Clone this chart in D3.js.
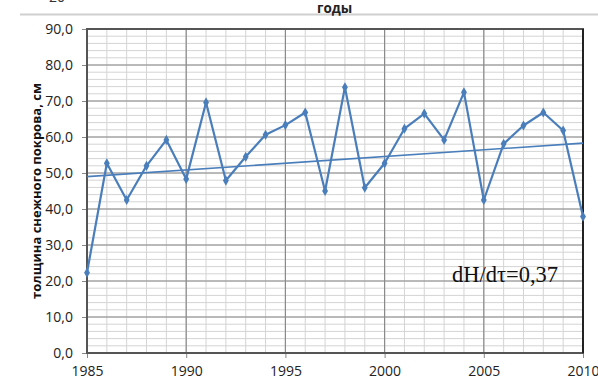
<!DOCTYPE html>
<html><head><meta charset="utf-8">
<script src="https://cdn.jsdelivr.net/npm/d3@7"></script>
<style>body{margin:0;background:#fff}svg{display:block}</style>
</head><body>
<svg id="c" width="598" height="388"></svg>
<script>
const years = [1985,1986,1987,1988,1989,1990,1991,1992,1993,1994,1995,1996,1997,1998,1999,2000,2001,2002,2003,2004,2005,2006,2007,2008,2009,2010];
const snowDepth = [22.3,52.7,42.5,52.0,59.2,48.3,69.6,47.9,54.5,60.6,63.3,66.8,45.0,73.8,45.9,52.7,62.3,66.5,59.2,72.4,42.5,58.1,63.2,66.8,61.8,37.9];
const trendYears = [1985,2010];
const trendValues = [49.0,58.3];
const yTicks = [0,10,20,30,40,50,60,70,80,90];
const xTicks = [1985,1990,1995,2000,2005,2010];
const yLabel = "толщина снежного покрова, см";
const topLabel = "годы";
const annotation = "dH/dτ=0,37";

const svg = d3.select("#c");
const x = d3.scaleLinear().domain([1985,2010]).range([87,583]);
const y = d3.scaleLinear().domain([0,90]).range([353,29]);
const blue = "#4a7ebb";

// remnants of preceding figure at top
svg.append("text").attr("x",65).attr("y",2).attr("text-anchor","end")
  .attr("font-family","Open Sans").attr("font-size",14).attr("fill","#333").text("20");
svg.append("line").attr("x1",20).attr("x2",598).attr("y1",14.5).attr("y2",14.5)
  .attr("stroke","#d0d0d0").attr("stroke-width",2);
svg.append("text").attr("x",317).attr("y",13).attr("font-family","Open Sans")
  .attr("font-weight","bold").attr("font-size",13.5).attr("fill","#222").text(topLabel);

// minor grid
const g = svg.append("g");
g.selectAll(".vminor").data(d3.range(1985,2011,1)).join("line")
  .attr("x1",d=>x(d)).attr("x2",d=>x(d)).attr("y1",y(90)).attr("y2",y(0))
  .attr("stroke","#d4d4d4").attr("stroke-width",1);
g.selectAll(".hminor").data(d3.range(0,91,2)).join("line")
  .attr("y1",d=>y(d)).attr("y2",d=>y(d)).attr("x1",x(1985)).attr("x2",x(2010))
  .attr("stroke","#d4d4d4").attr("stroke-width",1);
// major grid
g.selectAll(".vmajor").data(xTicks).join("line")
  .attr("x1",d=>x(d)).attr("x2",d=>x(d)).attr("y1",y(90)).attr("y2",y(0))
  .attr("stroke","#8a8a8a").attr("stroke-width",1.2);
g.selectAll(".hmajor").data(yTicks).join("line")
  .attr("y1",d=>y(d)).attr("y2",d=>y(d)).attr("x1",x(1985)).attr("x2",x(2010))
  .attr("stroke","#8a8a8a").attr("stroke-width",1.2);

// axes
const fmt = d => d.toFixed(1).replace(".",",");
const ya = svg.append("g").attr("transform",`translate(${x(1985)},0)`)
  .call(d3.axisLeft(y).tickValues(yTicks).tickFormat(fmt).tickSize(5).tickPadding(9));
const xa = svg.append("g").attr("transform",`translate(0,${y(0)})`)
  .call(d3.axisBottom(x).tickValues(xTicks).tickFormat(d3.format("d")).tickSize(5).tickPadding(8));
[ya,xa].forEach(a=>{
  a.select(".domain").remove();
  a.selectAll("line").attr("stroke","#888");
  a.selectAll("text").attr("font-family","Open Sans").attr("font-size",14).attr("fill","#222");
});

// plot border
svg.append("rect").attr("x",x(1985)).attr("y",y(90)).attr("width",x(2010)-x(1985)).attr("height",y(0)-y(90))
  .attr("fill","none").attr("stroke","#555").attr("stroke-width",2);
svg.append("line").attr("x1",x(2010)).attr("x2",x(2010)).attr("y1",y(90)).attr("y2",y(0))
  .attr("stroke","#222").attr("stroke-width",2);

// trend
svg.append("path").datum(trendYears.map((d,i)=>[d,trendValues[i]]))
  .attr("d",d3.line().x(d=>x(d[0])).y(d=>y(d[1])))
  .attr("fill","none").attr("stroke",blue).attr("stroke-width",1.6);

// series
const pts = years.map((d,i)=>[d,snowDepth[i]]);
svg.append("path").datum(pts).attr("d",d3.line().x(d=>x(d[0])).y(d=>y(d[1])))
  .attr("fill","none").attr("stroke",blue).attr("stroke-width",2.2).attr("stroke-linejoin","round");
svg.selectAll(".m").data(pts).join("path")
  .attr("transform",d=>`translate(${x(d[0])},${y(d[1])})`)
  .attr("d",d3.symbol(d3.symbolDiamond,30)).attr("fill",blue);

// y label
svg.append("text").attr("transform","translate(41,191) rotate(-90)").attr("text-anchor","middle")
  .attr("font-family","Open Sans").attr("font-weight","bold").attr("font-size",13).attr("fill","#111").text(yLabel);

// annotation
svg.append("text").attr("x",452).attr("y",282).attr("font-family","Liberation Serif")
  .attr("font-size",22.5).attr("fill","#111").text(annotation);
</script>
</body></html>
